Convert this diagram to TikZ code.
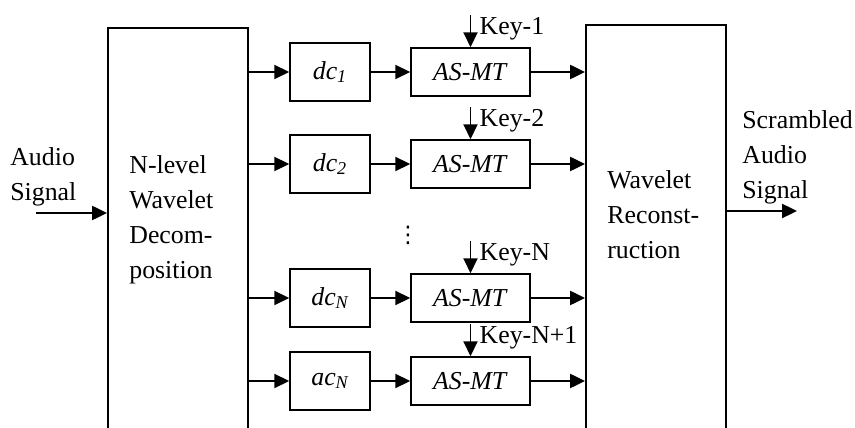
\documentclass[tikz,border=0pt]{standalone}
\usepackage{fontspec}
\setmainfont{Liberation Serif}
\newfontfamily\dotsfont{DejaVu Sans}
\usetikzlibrary{arrows.meta, positioning}

\tikzset{
  bigblk/.style={draw, line width=1.1pt, minimum width=2.8cm, minimum height=8.7cm, inner sep=0pt},
  coefbox/.style={draw, line width=0.9pt, minimum width=1.6cm, minimum height=1.16cm, inner sep=0pt},
  mtbox/.style={draw, line width=0.9pt, minimum width=2.38cm, minimum height=0.96cm, inner sep=0pt},
  arr/.style={line width=1.1pt, -{Triangle[length=8.5pt, width=8pt]}},
  txt/.style={anchor=north west, align=left, inner sep=0pt},
  keylbl/.style={anchor=north west, inner sep=0pt, xshift=5pt, yshift=-1pt}
}

\begin{document}
\begin{tikzpicture}[x=0.02cm, y=-0.02cm, font=\fontsize{14.7}{19.9}\selectfont]
  \useasboundingbox (0,0) rectangle (855,428);
  \clip (0,0) rectangle (855,428);

  % decomposition and reconstruction
  \node[bigblk] (dec) at (178,245.5) {};
  \node[bigblk] (rec) at (656,242.5) {};
  \node[txt] (dectxt) at (129,155) {N-level\\Wavelet\\Decom-\\position};
  \node[txt] (rectxt) at (607,170) {Wavelet\\Reconst-\\ruction};

  % coefficients
  \node[coefbox] (c1) at (330,72) {\textit{dc\textsubscript{1}}};
  \node[coefbox] (c2) at (330,164) {\textit{dc\textsubscript{2}}};
  \node[coefbox] (c3) at (330,298) {\textit{dc\textsubscript{N}}};
  \node[coefbox] (c4) at (330,381) {\textit{ac\textsubscript{N}}};
  \node[font=\dotsfont\fontsize{13}{13}\selectfont] (dots) at (408,235) {⋮};

  % scramblers
  \node[mtbox] (m1) at (470.5,72) {\textit{AS-MT}};
  \node[mtbox] (m2) at (470.5,164) {\textit{AS-MT}};
  \node[mtbox] (m3) at (470.5,298) {\textit{AS-MT}};
  \node[mtbox] (m4) at (470.5,381) {\textit{AS-MT}};

  \foreach \i in {1,2,3,4} {
    \draw[arr] (dec.east |- c\i) -- (c\i);
    \draw[arr] (c\i) -- (m\i);
    \draw[arr] (m\i) -- (m\i -| rec.west);
    \coordinate[above=0.64cm of m\i.north] (k\i);
    \draw[arr] (k\i) -- (m\i);
  }
  \node[keylbl] (key1) at (k1) {Key-1};
  \node[keylbl] (key2) at (k2) {Key-2};
  \node[keylbl] (key3) at (k3) {Key-N};
  \node[keylbl] (key4) at (k4) {Key-N+1};

  % input and output
  \node[txt] (insig) at (10,147) {Audio\\Signal};
  \coordinate (in) at (36,213);
  \draw[arr] (in) -- (in -| dec.west);
  \node[txt] (outsig) at (742,110) {Scrambled\\Audio\\Signal};
  \coordinate (out) at (797,211);
  \draw[arr] (rec.east |- out) -- (out);
\end{tikzpicture}
\end{document}
